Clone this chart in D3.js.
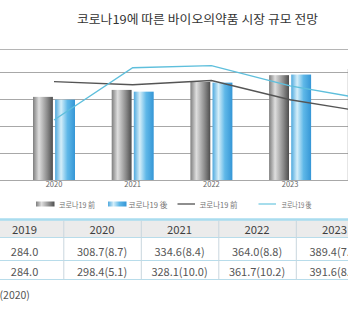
<!DOCTYPE html>
<html><head><meta charset="utf-8">
<script src="https://cdn.jsdelivr.net/npm/d3@7"></script>
<style>html,body{margin:0;padding:0;background:#fff;overflow:hidden}svg{display:block}</style>
</head><body>
<script>
// ---- data ----
const title = "코로나19에 따른 바이오의약품 시장 규모 전망";
const years = ["2020", "2021", "2022", "2023", "2024"];
const axisLabels = ["2020", "2021", "2022", "2023"];
const marketBefore = [308.7, 334.6, 364.0, 389.4, 412.0];   // 코로나19 前 (bars)
const marketAfter  = [298.4, 328.1, 361.7, 391.6, 419.0];   // 코로나19 後 (bars)
const growthBefore = [8.7, 8.4, 8.8, 7.0, 5.8];             // 코로나19 前 (line)
const growthAfter  = [5.1, 10.0, 10.2, 8.3, 7.0];           // 코로나19 後 (line)
const yTicks = [0, 100, 200, 300, 400];
const legendLabels = ["코로나19 前", "코로나19 後", "코로나19 前", "코로나19 後"];
const tableYears = ["2019", "2020", "2021", "2022", "2023"];
const tableBefore = ["284.0", "308.7(8.7)", "334.6(8.4)", "364.0(8.8)", "389.4(7.0)"];
const tableAfter  = ["284.0", "298.4(5.1)", "328.1(10.0)", "361.7(10.2)", "391.6(8.3)"];
const sourceNote = "(2020)";

const W = 348, H = 323;
const KR = "'Noto Sans CJK KR','Noto Sans',sans-serif";
const svg = d3.select("body").append("svg").attr("width", W).attr("height", H);
const defs = svg.append("defs");

function grad(id, stops) {
  const g = defs.append("linearGradient").attr("id", id).attr("x1", "0").attr("x2", "1").attr("y1", "0").attr("y2", "0");
  stops.forEach(s => g.append("stop").attr("offset", s[0]).attr("stop-color", s[1]));
}
grad("gGray", [["0%", "#7e7e7e"], ["30%", "#dedede"], ["72%", "#8a8a8a"], ["100%", "#4e4e4e"]]);
grad("gBlue", [["0%", "#4fa9de"], ["30%", "#d4eef9"], ["62%", "#5fb8e8"], ["100%", "#3596d6"]]);

// title
svg.append("text").attr("x", 197.5).attr("y", 18.5).attr("text-anchor", "middle")
  .attr("dominant-baseline", "central").attr("font-family", KR).attr("font-size", 12)
  .attr("fill", "#333").attr("textLength", 241).attr("lengthAdjust", "spacingAndGlyphs").text(title);

// scales
const x0 = d3.scaleBand().domain(years).range([14.65, 14.65 + 78.7 * years.length]).padding(0);
const x1 = d3.scaleBand().domain(["before", "after"]).range([x0.bandwidth() / 2 - 21, x0.bandwidth() / 2 + 21]).paddingInner(0.1);
const y = d3.scaleLinear().domain([0, 400]).range([180, 72.3]);
const y2 = d3.scaleLinear().domain([0, 12]).range([174.4, 174.4 - 128]);

// frame top line
svg.append("line").attr("x1", 0).attr("x2", W).attr("y1", 49.5).attr("y2", 49.5).attr("stroke", "#b5b5b5").attr("stroke-width", 1);
// grid
svg.append("g").selectAll("line").data(yTicks).join("line")
  .attr("x1", 0).attr("x2", W).attr("y1", d => Math.round(y(d)) + 0.5).attr("y2", d => Math.round(y(d)) + 0.5)
  .attr("stroke", "#a8a8a8").attr("stroke-width", 1);

// bars
const rows = years.map((yr, i) => ({ yr, before: marketBefore[i], after: marketAfter[i] }));
const gb = svg.append("g").selectAll("g").data(rows).join("g").attr("transform", d => `translate(${x0(d.yr)},0)`);
gb.selectAll("rect").data(d => [{ k: "before", v: d.before }, { k: "after", v: d.after }]).join("rect")
  .attr("x", d => x1(d.k)).attr("width", x1.bandwidth())
  .attr("y", d => y(d.v)).attr("height", d => y(0) - y(d.v))
  .attr("fill", d => d.k === "before" ? "url(#gGray)" : "url(#gBlue)");

// x axis labels
const xAxis = d3.axisBottom(x0).tickValues(axisLabels).tickSize(0).tickPadding(0);
const gx = svg.append("g").attr("transform", "translate(0,182)").call(xAxis);
gx.select(".domain").remove();
gx.selectAll("text").attr("font-family", KR).attr("font-size", 7.5).attr("fill", "#666").attr("dy", "0.6em");

// lines
const cx = yr => x0(yr) + x0.bandwidth() / 2;
const lineGen = d3.line().x((d, i) => cx(years[i])).y(d => y2(d));
svg.append("path").attr("d", lineGen(growthBefore)).attr("fill", "none").attr("stroke", "#555").attr("stroke-width", 1.4);
svg.append("path").attr("d", lineGen(growthAfter)).attr("fill", "none").attr("stroke", "#5ebfdc").attr("stroke-width", 1.4);

// legend
const lg = svg.append("g");
const legItems = [
  { type: "rect", fill: "url(#gGray)", x: 36, tx: 59, tw: 36 },
  { type: "rect", fill: "url(#gBlue)", x: 108, tx: 128.5, tw: 39 },
  { type: "line", stroke: "#444", x: 177.5, tx: 199.5, tw: 38 },
  { type: "line", stroke: "#6cc6e0", x: 258.5, tx: 281.5, tw: 30 }
];
legItems.forEach((it, i) => {
  if (it.type === "rect") lg.append("rect").attr("x", it.x).attr("y", 201.5).attr("width", 18.5).attr("height", 5).attr("fill", it.fill);
  else lg.append("line").attr("x1", it.x).attr("x2", it.x + 17.5).attr("y1", 204).attr("y2", 204).attr("stroke", it.stroke).attr("stroke-width", 1.2);
  lg.append("text").attr("x", it.tx).attr("y", 204).attr("dominant-baseline", "central")
    .attr("font-family", KR).attr("font-size", 8).attr("fill", "#777")
    .attr("textLength", it.tw).attr("lengthAdjust", "spacingAndGlyphs").text(legendLabels[i]);
});

// table
const colW = 77.5, col0 = 63.3 - colW;
const tx = d3.scaleBand().domain(tableYears).range([col0, col0 + colW * tableYears.length]);
const tTop = 219.5, hdrB = 237.5, r1B = 260.5, r2B = 279.5;
svg.append("rect").attr("x", 0).attr("y", tTop).attr("width", W).attr("height", hdrB - tTop).attr("fill", "#ebebeb");
svg.append("line").attr("x1", 0).attr("x2", W).attr("y1", tTop).attr("y2", tTop).attr("stroke", "#a9dcef").attr("stroke-width", 2.5);
[hdrB, r1B, r2B].forEach(yy => svg.append("line").attr("x1", 0).attr("x2", W).attr("y1", yy).attr("y2", yy).attr("stroke", "#b8dcea").attr("stroke-width", 1));
svg.append("g").selectAll("line").data(tableYears.slice(1)).join("line")
  .attr("x1", d => tx(d) + 0.5).attr("x2", d => tx(d) + 0.5).attr("y1", tTop + 1).attr("y2", r2B)
  .attr("stroke", "#c9d6de").attr("stroke-width", 1);
const tcx = d => tx(d) + colW / 2;
const rowsT = [
  { vals: tableYears, yc: (tTop + hdrB) / 2 + 0.8, fill: "#3e3e3e", fs: 11.3 },
  { vals: tableBefore, yc: 250.5, fill: "#555", fs: 11 },
  { vals: tableAfter, yc: 270.5, fill: "#555", fs: 11 }
];
rowsT.forEach(r => {
  svg.append("g").selectAll("text").data(r.vals).join("text")
    .attr("x", (d, i) => tcx(tableYears[i])).attr("y", r.yc).attr("text-anchor", "middle")
    .attr("dominant-baseline", "central").attr("font-family", KR).attr("font-size", r.fs)
    .attr("fill", r.fill).text(d => d);
});
svg.append("text").attr("x", -0.5).attr("y", 294).attr("dominant-baseline", "central")
  .attr("font-family", KR).attr("font-size", 10.5).attr("fill", "#555").text(sourceNote);
</script>
</body></html>
